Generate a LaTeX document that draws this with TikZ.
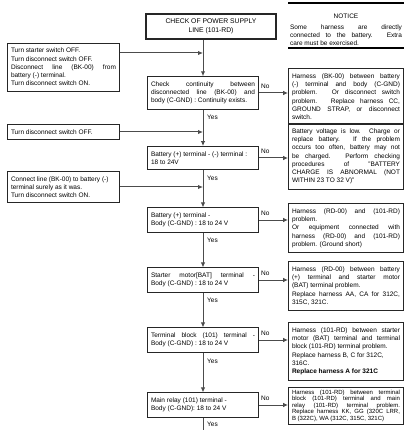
\documentclass[tikz,border=0pt]{standalone}
\usepackage{fontspec}
\setmainfont{Liberation Sans}
\usetikzlibrary{arrows.meta, positioning}
\tolerance=10000 \hbadness=10000 \hyphenpenalty=10000

\begin{document}
\begin{tikzpicture}[x=1pt, y=-1pt,
  txt/.style={font=\fontsize{6.5}{8.3}\selectfont},
  box/.style={txt, draw=black!85, line width=0.8pt, align=justify, inner xsep=3.5pt, inner ysep=5pt},
  leftbox/.style={box, text width=105pt},
  midbox/.style={box, text width=104pt},
  rightbox/.style={box, text width=108pt, anchor=north},
  flow/.style={draw=black!70, line width=1pt, -{Latex[length=5pt,width=4.5pt]}},
  lbl/.style={txt, anchor=west, inner sep=1pt}]

\useasboundingbox (0,0) rectangle (408,430);

%Nodes
\node (title) at (211,26.5) [draw=black!85, line width=1.6pt, align=center, minimum width=130pt, minimum height=25pt, font=\fontsize{6.8}{8.5}\selectfont] {CHECK OF POWER SUPPLY\\LINE (101-RD)};

\node (noticehead) at (346,16) [txt] {NOTICE};
\node (notice) at (346,35) [txt, text width=112pt, align=justify, inner sep=0pt] {Some harness are directly\linebreak connected to the battery. Extra\linebreak care must be exercised.};
\draw[line width=1.2pt] (288,3) -- (404,3);
\draw[line width=1.4pt] (288,48) -- (404,48);

\node (prep) at (63.5,67) [leftbox] {Turn starter switch OFF.\\ Turn disconnect switch OFF.\\ Disconnect line (BK-00) from\linebreak battery (-) terminal.\\ Turn disconnect switch ON.};
\node (swoff) at (63.5,132) [leftbox] {Turn disconnect switch OFF.};
\node (reconnect) at (63.5,187) [leftbox] {Connect line (BK-00) to battery (-)\\ terminal surely as it was.\\ Turn disconnect switch ON.};

\node (cont) at (203,93) [midbox] {Check continuity between\linebreak disconnected line (BK-00) and\linebreak body (C-GND) : Continuity exists.};
\node (battv) at (203,158) [midbox] {Battery (+) terminal - (-) terminal :\\ 18 to 24V};
\node (battbody) at (203,220) [midbox] {Battery (+) terminal -\\ Body (C-GND) : 18 to 24 V};
\node (startbat) at (203,280) [midbox] {Starter motor[BAT] terminal -\linebreak Body (C-GND) : 18 to 24 V};
\node (termblk) at (203,340) [midbox] {Terminal block (101) terminal -\linebreak Body (C-GND) : 18 to 24 V};
\node (mainrly) at (203,405) [midbox] {Main relay (101) terminal -\\ Body (C-GND): 18 to 24 V};

\node (bkfault) at (346,68) [rightbox] {Harness (BK-00) between battery\linebreak (-) terminal and body (C-GND)\linebreak problem. Or disconnect switch\linebreak problem. Replace harness CC,\linebreak GROUND STRAP, or disconnect\linebreak switch.};
\node (lowbatt) at (346,123) [rightbox] {Battery voltage is low. Charge or\linebreak replace battery. If the problem\linebreak occurs too often, battery may not\linebreak be charged. Perform checking\linebreak procedures of "BATTERY\linebreak CHARGE IS ABNORMAL (NOT\linebreak WITHIN 23 TO 32 V)"};
\node (rdfault) at (346,203) [rightbox] {Harness (RD-00) and (101-RD)\linebreak problem.\\ Or equipment connected with\linebreak harness (RD-00) and (101-RD)\linebreak problem. (Ground short)};
\node (rdstart) at (346,261) [rightbox] {Harness (RD-00) between battery\linebreak (+) terminal and starter motor\linebreak (BAT) terminal problem.\\ Replace harness AA, CA for 312C,\linebreak 315C, 321C.};
\node (tbfault) at (346,322) [rightbox] {Harness (101-RD) between starter\linebreak motor (BAT) terminal and terminal\linebreak block (101-RD) terminal problem.\\ Replace harness B, C for 312C,\\ 316C.\\ \textbf{Replace harness A for 321C}};
\node (rlyfault) at (346,387) [rightbox, font=\fontsize{6}{6.5}\selectfont, inner ysep=2.5pt] {Harness (101-RD) between terminal\linebreak block (101-RD) terminal and main\linebreak relay (101-RD) terminal problem.\linebreak Replace harness KK, GG (320C LRR,\linebreak B (322C), WA (312C, 315C, 321C)};

\coordinate (tap) at (203,53);
\coordinate (tail) at (203,430);

%Yes path
\draw[flow] (title.south -| cont) -- (cont);
\draw[flow] (prep.east |- tap) -- (tap);
\draw[flow] (cont) -- (battv);
\draw[flow] (swoff) -- (swoff -| cont);
\draw[flow] (battv) -- (battbody);
\draw[flow] (reconnect) -- (reconnect -| cont);
\draw[flow] (battbody) -- (startbat);
\draw[flow] (startbat) -- (termblk);
\draw[flow] (termblk) -- (mainrly);
\draw[flow, -] (mainrly) -- (tail);

\node (yes1) at (206,117) [lbl] {Yes};
\node (yes2) at (206,178) [lbl] {Yes};
\node (yes3) at (206,240) [lbl] {Yes};
\node (yes4) at (206,300) [lbl] {Yes};
\node (yes5) at (206,361) [lbl] {Yes};
\node (yes6) at (206,424) [lbl] {Yes};

%No path
\draw[flow] (cont) -- (cont -| bkfault.west);
\draw[flow] (battv) -- (battv -| lowbatt.west);
\draw[flow] (battbody) -- (battbody -| rdfault.west);
\draw[flow] (startbat) -- (startbat -| rdstart.west);
\draw[flow] (termblk) -- (termblk -| tbfault.west);
\draw[flow] (mainrly) -- (mainrly -| rlyfault.west);

\node (no1) at (260,86.5) [lbl] {No};
\node (no2) at (260,151.5) [lbl] {No};
\node (no3) at (260,213.5) [lbl] {No};
\node (no4) at (260,273.5) [lbl] {No};
\node (no5) at (260,333.5) [lbl] {No};
\node (no6) at (260,398.5) [lbl] {No};

\end{tikzpicture}
\end{document}
